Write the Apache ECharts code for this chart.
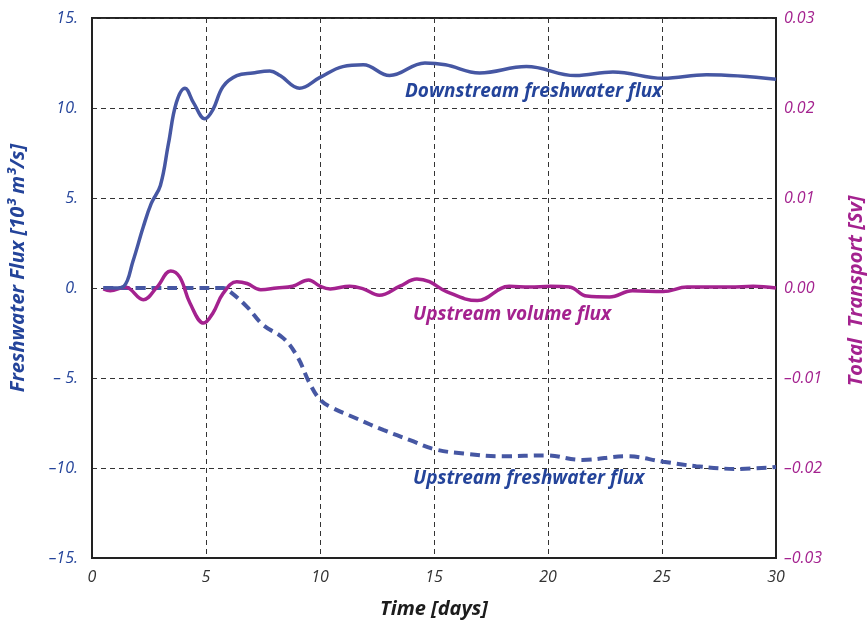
<!DOCTYPE html>
<html>
<head>
<meta charset="utf-8">
<script src="https://cdn.jsdelivr.net/npm/echarts@6/dist/echarts.min.js"></script>
<style>
  html, body { margin: 0; padding: 0; background: #fff; }
  #chart { width: 867px; height: 621px; }
</style>
</head>
<body>
<div id="chart"></div>
<script>
// Downstream freshwater flux [10^3 m^3/s]
const downTime = [0.5, 1.0, 1.4, 1.8, 2.25, 2.6, 3.0, 3.35, 3.7, 4.08, 4.45, 4.95, 5.3, 5.75, 6.35, 7.05, 7.8, 8.25, 9.1, 10.0, 11.0, 11.9, 13.05, 14.6, 15.5, 17.0, 19.05, 21.2, 22.85, 25.05, 26.95, 30.0];
const downFlux = [0.0, 0.0, 0.1, 1.5, 3.4, 4.7, 5.7, 8.0, 10.3, 11.1, 10.3, 9.4, 9.9, 11.2, 11.8, 11.95, 12.05, 11.8, 11.1, 11.7, 12.3, 12.4, 11.8, 12.5, 12.4, 11.95, 12.3, 11.8, 12.0, 11.65, 11.85, 11.6];

// Upstream freshwater flux [10^3 m^3/s]
const upFreshTime = [0.5, 2, 4, 5.75, 6.05, 6.8, 7.5, 8.4, 9.0, 9.55, 10.0, 10.45, 11.6, 12.8, 13.95, 15.0, 16.3, 18.0, 19.9, 21.5, 23.45, 25.05, 26.5, 28.3, 30.0];
const upFreshFlux = [0, 0, 0, 0, -0.2, -1.05, -2.05, -2.8, -3.8, -5.3, -6.2, -6.6, -7.25, -7.9, -8.45, -8.95, -9.2, -9.35, -9.3, -9.55, -9.35, -9.65, -9.9, -10.05, -9.95];

// Upstream volume flux [Sv]
const upVolTime = [0.5, 0.8, 1.45, 2.25, 2.85, 3.45, 3.85, 4.3, 4.9, 5.3, 5.75, 6.35, 6.8, 7.4, 8.1, 8.8, 9.5, 10.0, 10.45, 11.3, 11.9, 12.6, 13.5, 14.25, 14.8, 15.55, 16.9, 18.3, 19.2, 20.1, 20.95, 21.7, 22.7, 23.7, 25.05, 26.1, 28.0, 29.0, 30.0];
const upVolFlux = [-0.0001, -0.0003, 0.0001, -0.0013, 0.0001, 0.0019, 0.0012, -0.0017, -0.0039, -0.0028, -0.0006, 0.0007, 0.0005, -0.0002, 0.0, 0.0002, 0.0009, 0.0002, -0.0001, 0.0002, -0.0001, -0.0008, 0.0002, 0.0010, 0.0007, -0.0004, -0.0014, 0.0002, 0.0001, 0.0002, 0.0001, -0.0009, -0.001, -0.0003, -0.0004, 0.0001, 0.0001, 0.0002, 0.0];

// Axis tick labels
const timeTicks = [0, 5, 10, 15, 20, 25, 30];
const fluxTicks = [-15, -10, -5, 0, 5, 10, 15];
const fluxTickLabels = ['\u201315.', '\u201310.', '\u2013 5.', '0.', '5.', '10.', '15.'];
const svTicks = [-0.03, -0.02, -0.01, 0, 0.01, 0.02, 0.03];
const svTickLabels = ['\u20130.03', '\u20130.02', '\u20130.01', '0.00', '0.01', '0.02', '0.03'];

const BLUE_LINE = '#4657a3';
const BLUE_TEXT = '#24449a';
const MAGENTA = '#a4228f';
const LABEL_FONT = 'italic bold 19px "Open Sans"';
const AXIS_TITLE_FONT = 'italic bold 20px "Open Sans"';

const pairs = (xs, ys) => xs.map((x, i) => [x, ys[i]]);
const nearestLabel = (ticks, labels, v) => {
  let best = 0;
  ticks.forEach((t, i) => { if (Math.abs(t - v) < Math.abs(ticks[best] - v)) best = i; });
  return labels[best];
};

const chart = echarts.init(document.getElementById('chart'), null, { renderer: 'canvas' });

const dashedGrid = { show: true, lineStyle: { color: '#333', width: 1, type: [5, 4] } };
const tickFont = { fontFamily: 'Open Sans', fontStyle: 'italic', fontWeight: 400, fontSize: 16 };

chart.setOption({
  backgroundColor: '#fff',
  animation: false,
  grid: { left: 92, right: 91, top: 18, bottom: 63, show: true, borderColor: '#222', borderWidth: 2, backgroundColor: 'transparent' },
  xAxis: {
    type: 'value', min: 0, max: 30, interval: 5,
    axisLine: { show: true, onZero: false, lineStyle: { color: '#222', width: 2 } },
    axisTick: { show: false },
    splitLine: dashedGrid,
    axisLabel: Object.assign({
      margin: 11, color: '#333',
      formatter: v => String(timeTicks.find(t => t === v) ?? v)
    }, tickFont)
  },
  yAxis: [
    {
      type: 'value', min: -15, max: 15, interval: 5,
      axisLine: { show: true, onZero: false, lineStyle: { color: '#222', width: 2 } },
      axisTick: { show: false },
      splitLine: dashedGrid,
      axisLabel: Object.assign({
        margin: 14, color: BLUE_TEXT,
        formatter: v => nearestLabel(fluxTicks, fluxTickLabels, v)
      }, tickFont)
    },
    {
      type: 'value', min: -0.03, max: 0.03, interval: 0.01, position: 'right',
      axisLine: { show: true, onZero: false, lineStyle: { color: '#222', width: 2 } },
      axisTick: { show: false },
      splitLine: { show: false },
      axisLabel: Object.assign({
        margin: 8, color: MAGENTA,
        formatter: v => nearestLabel(svTicks, svTickLabels, v)
      }, tickFont)
    }
  ],
  series: [
    {
      name: 'Upstream freshwater flux', type: 'line', yAxisIndex: 0,
      data: pairs(upFreshTime, upFreshFlux), smooth: 0.4, showSymbol: false,
      lineStyle: { color: BLUE_LINE, width: 4, type: [10, 6], cap: 'butt' }, z: 3
    },
    {
      name: 'Upstream volume flux', type: 'line', yAxisIndex: 1,
      data: pairs(upVolTime, upVolFlux), smooth: 0.4, showSymbol: false,
      lineStyle: { color: MAGENTA, width: 3.5 }, z: 4
    },
    {
      name: 'Downstream freshwater flux', type: 'line', yAxisIndex: 0,
      data: pairs(downTime, downFlux), smooth: 0.4, showSymbol: false,
      lineStyle: { color: BLUE_LINE, width: 3.5 }, z: 5
    }
  ],
  graphic: [
    { type: 'text', x: 405, y: 92, z: 10, style: { text: 'Downstream freshwater flux', font: LABEL_FONT, fill: BLUE_TEXT, verticalAlign: 'middle' } },
    { type: 'text', x: 413, y: 315, z: 10, style: { text: 'Upstream volume flux', font: LABEL_FONT, fill: MAGENTA, verticalAlign: 'middle' } },
    { type: 'text', x: 413, y: 479, z: 10, style: { text: 'Upstream freshwater flux', font: LABEL_FONT, fill: BLUE_TEXT, verticalAlign: 'middle' } },
    { type: 'text', x: 18, y: 268, rotation: Math.PI / 2, z: 10,
      style: { text: 'Freshwater Flux [10\u00B3 m\u00B3/s]', font: AXIS_TITLE_FONT, fill: BLUE_TEXT, align: 'center', verticalAlign: 'middle' } },
    { type: 'text', x: 856, y: 291, rotation: Math.PI / 2, z: 10,
      style: { text: 'Total  Transport [Sv]', font: AXIS_TITLE_FONT, fill: MAGENTA, align: 'center', verticalAlign: 'middle' } },
    { type: 'text', x: 434, y: 609, z: 10,
      style: { text: 'Time [days]', font: AXIS_TITLE_FONT, fill: '#1c1c1c', align: 'center', verticalAlign: 'middle' } }
  ]
});
</script>
</body>
</html>
